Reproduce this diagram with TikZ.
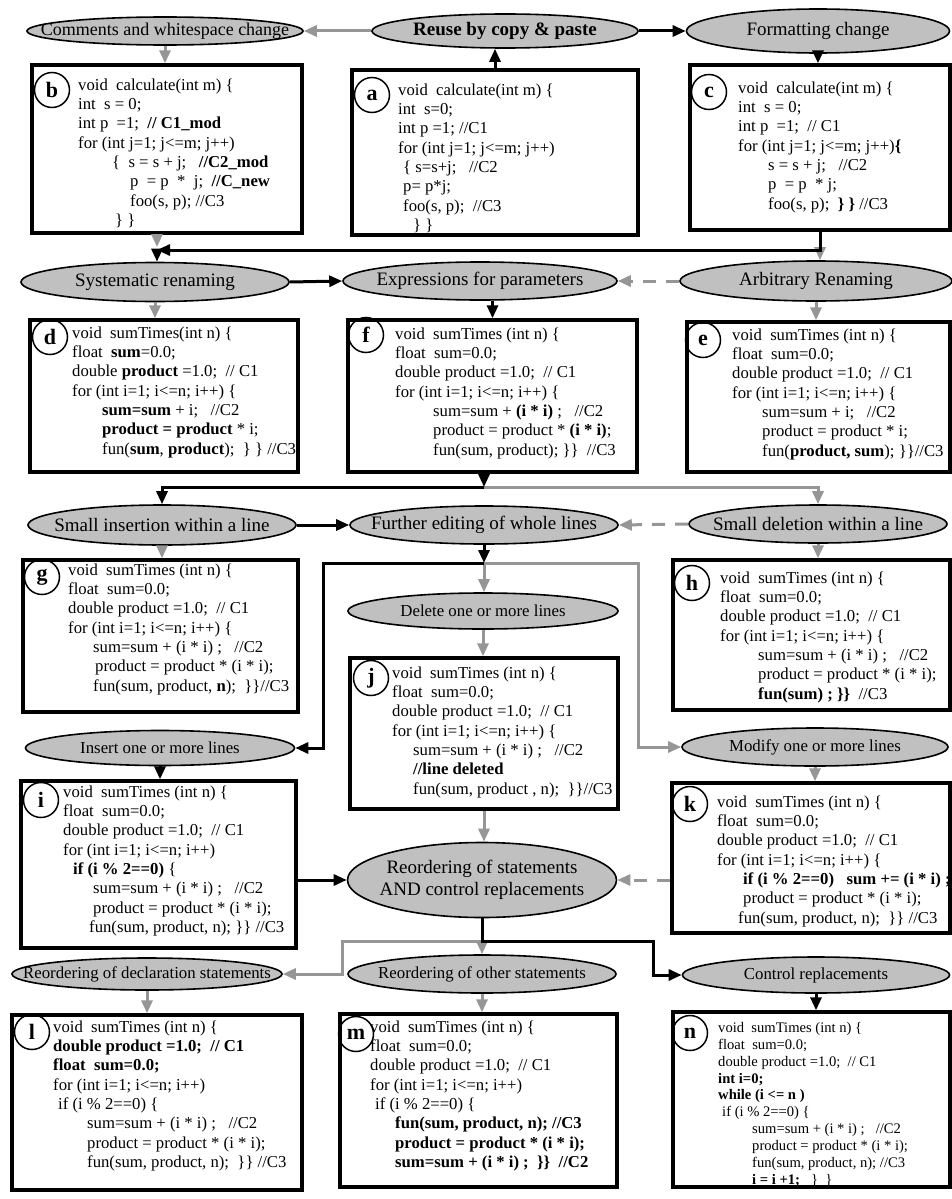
\documentclass[tikz,border=0pt]{standalone}
\usepackage{fontspec}
\setmainfont{Liberation Serif}
\usetikzlibrary{shapes.geometric,arrows.meta}

\definecolor{linegray}{RGB}{150,150,150}
\definecolor{ovalgray}{RGB}{192,192,192}

\tikzset{
  codebox/.style={draw, line width=3.4pt, rectangle, inner sep=0pt},
  code/.style={anchor=north west, align=left, inner sep=0pt, font=\fontsize{16.7}{19.3}\selectfont},
  tag/.style={draw, circle, line width=1.5pt, minimum size=35pt, inner sep=0pt, font=\fontsize{22}{22}\selectfont\bfseries},
  oval/.style={draw, ellipse, line width=1.6pt, fill=ovalgray, inner sep=0pt, font=\fontsize{19}{22}\selectfont},
  smalloval/.style={oval, font=\fontsize{16.8}{20}\selectfont},
  barrow/.style={line width=3pt, -{Triangle[length=13pt,width=11pt]}},
  garrow/.style={barrow, linegray},
  dasharrow/.style={garrow, dash pattern=on 13pt off 10pt}
}

\begin{document}
\begin{tikzpicture}[x=1pt,y=-1pt]
    \useasboundingbox (0,0) rectangle (951,1199);

    % ---- edit steps
    \node[oval, minimum width=276pt, minimum height=28pt, font=\fontsize{18}{20}\selectfont] (cws) at (165,31) {\makebox[0pt]{Comments and whitespace change}};
    \node[oval, minimum width=266pt, minimum height=34pt] (reuse) at (505,31) {\makebox[0pt]{\bfseries Reuse by copy \& paste}};
    \node[oval, minimum width=263pt, minimum height=44pt] (fmt) at (818,31) {\makebox[0pt]{Formatting change}};

    \node[oval, minimum width=268pt, minimum height=39pt] (sys) at (155,282) {\makebox[0pt]{Systematic renaming}};
    \node[oval, minimum width=274pt, minimum height=38pt] (expr) at (480,281) {\makebox[0pt]{Expressions for parameters}};
    \node[oval, minimum width=272pt, minimum height=40pt] (arb) at (816,281) {\makebox[0pt]{Arbitrary Renaming}};

    \node[oval, minimum width=268pt, minimum height=40pt] (sins) at (162,525) {\makebox[0pt]{Small insertion within a line}};
    \node[oval, minimum width=268pt, minimum height=38pt] (fur) at (484,525) {\makebox[0pt]{Further editing of whole lines}};
    \node[oval, minimum width=258pt, minimum height=38pt] (sdel) at (818,524) {\makebox[0pt]{Small deletion within a line}};

    \node[smalloval, minimum width=270pt, minimum height=36pt] (dell) at (483,611) {\makebox[0pt]{Delete one or more lines}};
    \node[smalloval, minimum width=269pt, minimum height=35pt] (insl) at (160,748) {\makebox[0pt]{Insert one or more lines}};
    \node[smalloval, minimum width=266pt, minimum height=38pt] (modl) at (815,747) {\makebox[0pt]{Modify one or more lines}};

    \node[oval, minimum width=269pt, minimum height=75pt] (reo) at (482,880) {\makebox[0pt]{\begin{tabular}{@{}c@{}}Reordering of statements\\AND control replacements\end{tabular}}};

    \node[smalloval, minimum width=270pt, minimum height=32pt] (decl) at (147,974) {\makebox[0pt]{Reordering of declaration statements}};
    \node[smalloval, minimum width=268pt, minimum height=38pt] (other) at (482,974) {\makebox[0pt]{Reordering of other statements}};
    \node[smalloval, minimum width=267pt, minimum height=36pt] (ctl) at (816,975) {\makebox[0pt]{Control replacements}};

    % ---- code boxes
    \node[codebox, minimum width=270pt, minimum height=168pt] (boxb) at (167,149) {};
    \node[code] (xb) at (78,78.5) {void~~calculate(int m) \{\\
int~~s = 0;\\
int p~~=1;~~\textbf{// C1\_mod}\\
for (int j=1; j<=m; j++)\\
\hspace*{34pt}\{~~s = s + j;~~~\textbf{//C2\_mod}\\
\hspace*{52pt}p~~= p~~*~~j;~~\textbf{//C\_new}\\
\hspace*{52pt}foo(s, p); //C3\\
\hspace*{37pt}\} \}};
    \node[tag] (tb) at (52,90) {b};

    \node[codebox, minimum width=286pt, minimum height=165pt] (boxa) at (495,152.5) {};
    \node[code] (xa) at (398,83.5) {void~~calculate(int m) \{\\
int~~s=0;\\
int p =1; //C1\\
for (int j=1; j<=m; j++)\\
\hspace*{5pt}\{ s=s+j;~~~//C2\\
\hspace*{5pt}p= p*j;\\
\hspace*{5pt}foo(s, p);~~//C3\\
\hspace*{15pt}\} \}};
    \node[tag] (ta) at (372,95) {a};

    \node[codebox, minimum width=260pt, minimum height=165pt] (boxc) at (820,147.5) {};
    \node[code] (xc) at (738,81.5) {void~~calculate(int m) \{\\
int~~s = 0;\\
int p~~=1;~~// C1\\
for (int j=1; j<=m; j++)\textbf{\{}\\
\hspace*{30pt}s = s + j;~~~//C2\\
\hspace*{30pt}p~~= p~~* j;\\
\hspace*{30pt}foo(s, p);~~\textbf{\} \}} //C3};
    \node[tag] (tc) at (709,92) {c};

    \node[codebox, minimum width=268pt, minimum height=152pt] (boxd) at (164,396) {};
    \node[code] (xd) at (72,326.5) {void~~sumTimes(int n) \{\\
float~~\textbf{sum}=0.0;\\
double \textbf{product} =1.0;~~// C1\\
for (int i=1; i<=n; i++) \{\\
\hspace*{30pt}\textbf{sum=sum} + i;~~~//C2\\
\hspace*{30pt}\textbf{product = product} * i;\\
\hspace*{30pt}fun(\textbf{sum}, \textbf{product});~~\} \} //C3};
    \node[tag] (td) at (50,337) {d};

    \node[codebox, minimum width=289pt, minimum height=152pt] (boxf) at (492.5,396) {};
    \node[code] (xf) at (395,327.5) {void~~sumTimes (int n) \{\\
float~~sum=0.0;\\
double product =1.0;~~// C1\\
for (int i=1; i<=n; i++) \{\\
\hspace*{38pt}sum=sum + \textbf{(i * i)} ;~~~//C2\\
\hspace*{38pt}product = product * \textbf{(i * i)};\\
\hspace*{38pt}fun(sum, product); \}\}~~//C3};
    \node[tag] (tf) at (366,335) {f};

    \node[codebox, minimum width=263pt, minimum height=150pt] (boxe) at (818.5,397) {};
    \node[code] (xe) at (732,328.5) {void~~sumTimes (int n) \{\\
float~~sum=0.0;\\
double product =1.0;~~// C1\\
for (int i=1; i<=n; i++) \{\\
\hspace*{30pt}sum=sum + i;~~~//C2\\
\hspace*{30pt}product = product * i;\\
\hspace*{30pt}fun(\textbf{product, sum}); \}\}//C3};
    \node[tag] (te) at (703,340) {e};

    \node[codebox, minimum width=275pt, minimum height=152pt] (boxg) at (160.5,636) {};
    \node[code] (xg) at (68,563.5) {void~~sumTimes (int n) \{\\
float~~sum=0.0;\\
double product =1.0;~~// C1\\
for (int i=1; i<=n; i++) \{\\
\hspace*{25pt}sum=sum + (i * i) ;~~~//C2\\
\hspace*{27pt}product = product * (i * i);\\
\hspace*{25pt}fun(sum, product, \textbf{n});~~\}\}//C3};
    \node[tag] (tg) at (42,577) {g};

    \node[codebox, minimum width=277pt, minimum height=150pt] (boxh) at (811.5,635) {};
    \node[code] (xh) at (720,571.5) {void~~sumTimes (int n) \{\\
float~~sum=0.0;\\
double product =1.0;~~// C1\\
for (int i=1; i<=n; i++) \{\\
\hspace*{38pt}sum=sum + (i * i) ;~~~//C2\\
\hspace*{38pt}product = product * (i * i);\\
\hspace*{38pt}\textbf{fun(sum) ; \}\}}~~//C3};
    \node[tag] (th) at (692,583) {h};

    \node[codebox, minimum width=268pt, minimum height=151pt] (boxj) at (484,733.5) {};
    \node[code] (xj) at (392,666.5) {void~~sumTimes (int n) \{\\
float~~sum=0.0;\\
double product =1.0;~~// C1\\
for (int i=1; i<=n; i++) \{\\
\hspace*{21pt}sum=sum + (i * i) ;~~~//C2\\
\hspace*{21pt}\textbf{//line deleted}\\
\hspace*{21pt}fun(sum, product , n);~~\}\}//C3};
    \node[tag] (tj) at (371,678) {j};

    \node[codebox, minimum width=275pt, minimum height=167pt] (boxi) at (158.5,864.5) {};
    \node[code] (xi) at (63,785.5) {void~~sumTimes (int n) \{\\
float~~sum=0.0;\\
double product =1.0;~~// C1\\
for (int i=1; i<=n; i++)\\
\hspace*{10pt}\textbf{if (i \% 2==0)} \{\\
\hspace*{30pt}sum=sum + (i * i) ;~~~//C2\\
\hspace*{30pt}product = product * (i * i);\\
\hspace*{26pt}fun(sum, product, n); \}\} //C3};
    \node[tag] (ti) at (41,800) {i};

    \node[codebox, minimum width=278pt, minimum height=150pt] (boxk) at (811,858) {};
    \node[code] (xk) at (717,795.5) {void~~sumTimes (int n) \{\\
float~~sum=0.0;\\
double product =1.0;~~// C1\\
for (int i=1; i<=n; i++) \{\\
\hspace*{26pt}\textbf{if (i \% 2==0)~~~sum += (i * i) ;}\\
\hspace*{26pt}product = product * (i * i);\\
\hspace*{21pt}fun(sum, product, n);~~\}\} //C3};
    \node[tag] (tk) at (690,804) {k};

    \node[codebox, minimum width=290pt, minimum height=175pt] (boxl) at (157,1102.5) {};
    \node[code] (xl) at (53,1020.5) {void~~sumTimes (int n) \{\\
\textbf{double product =1.0;~~// C1}\\
\textbf{float~~sum=0.0;}\\
for (int i=1; i<=n; i++)\\
\hspace*{5pt}if (i \% 2==0) \{\\
\hspace*{34pt}sum=sum + (i * i) ;~~~//C2\\
\hspace*{34pt}product = product * (i * i);\\
\hspace*{34pt}fun(sum, product, n);~~\}\} //C3};
    \node[tag] (tl) at (32,1032) {l};

    \node[codebox, minimum width=277pt, minimum height=173pt] (boxm) at (478.5,1100.5) {};
    \node[code] (xm) at (370,1020.5) {void~~sumTimes (int n) \{\\
float~~sum=0.0;\\
double product =1.0;~~// C1\\
for (int i=1; i<=n; i++)\\
\hspace*{5pt}if (i \% 2==0) \{\\
\hspace*{25pt}\textbf{fun(sum, product, n); //C3}\\
\hspace*{25pt}\textbf{product = product * (i * i);}\\
\hspace*{25pt}\textbf{sum=sum + (i * i) ;~~\}\}~~//C2}};
    \node[tag] (tm) at (356,1034) {m};

    \node[codebox, minimum width=277pt, minimum height=175pt] (boxn) at (811.5,1099.5) {};
    \node[code, font=\fontsize{14.6}{16.9}\selectfont] (xn) at (718,1022) {void~~sumTimes (int n) \{\\
float~~sum=0.0;\\
double product =1.0;~~// C1\\
\textbf{int i=0;}\\
\textbf{while (i <= n )}\\
\hspace*{4pt}if (i \% 2==0) \{\\
\hspace*{34pt}sum=sum + (i * i) ;~~~//C2\\
\hspace*{34pt}product = product * (i * i);\\
\hspace*{34pt}fun(sum, product, n); //C3\\
\hspace*{34pt}\textbf{i = i +1;}~~~\}~~\}};
    \node[tag] (tn) at (690,1033) {n};

    % ---- junctions and corners
    \coordinate (jc) at (157,250);
    \coordinate (jf) at (484,487);
    \coordinate (jw) at (484,563);
    \coordinate (cins) at (323,748);
    \coordinate (cmod) at (638,747);
    \coordinate (jr) at (482,941);
    \coordinate (cdecl) at (342,941);
    \coordinate (cctl) at (653,941);

    % ---- top row
    \draw[garrow] (reuse.west) -- (cws.east);
    \draw[barrow] (reuse.east) -- (fmt.west);
    \draw[garrow] (cws.south) -- (cws.south |- boxb.north);
    \draw[barrow] (boxa.north) -- (boxa.north |- reuse.south);
    \draw[barrow] (fmt.south) -- (fmt.south |- boxc.north);

    \draw[garrow] (boxb.south -| jc) -- ([yshift=3pt]jc);
    \draw[garrow] (boxc.south |- jc) -- (boxc.south |- arb.north);
    \draw[barrow] (boxc.south) |- (jc);
    \draw[barrow] (jc) -- (jc |- sys.north);

    % ---- renaming row
    \draw[barrow] (sys.east) -- (expr.west);
    \draw[dasharrow] (arb.west) -- (expr.east);
    \draw[garrow] (sys.south) -- (sys.south |- boxd.north);
    \draw[barrow] (boxf.north |- expr.south) -- (boxf.north);
    \draw[garrow] (arb.south) -- (arb.south |- boxe.north);

    \draw[garrow] (jf) -| (sdel.north);
    \draw[barrow] (boxf.south -| jf) -- (jf);
    \draw[barrow] (jf) -| (sins.north);

    % ---- small edits
    \draw[barrow] (sins.east) -- (fur.west);
    \draw[dasharrow] (sdel.west) -- (fur.east);
    \draw[garrow] (sins.south) -- (sins.south |- boxg.north);
    \draw[garrow] (sdel.south) -- (sdel.south |- boxh.north);

    % ---- whole lines
    \draw[garrow] (jw) -| (cmod) -- (modl.west);
    \draw[garrow] (jw) -- (jw |- dell.north);
    \draw[barrow] (fur.south) -- (jw);
    \draw[barrow] (jw) -| (cins) -- (insl.east);
    \draw[garrow] (dell.south) -- (dell.south |- boxj.north);
    \draw[barrow] (insl.south) -- (insl.south |- boxi.north);
    \draw[garrow] (modl.south) -- (modl.south |- boxk.north);

    % ---- reordering
    \draw[garrow] (boxj.south) -- (boxj.south |- reo.north);
    \draw[barrow] (boxi.east |- reo.west) -- (reo.west);
    \draw[dasharrow] (boxk.west |- reo.east) -- (reo.east);

    \draw[garrow] (jr) -- (cdecl) |- (decl.east);
    \draw[garrow] (jr) -- (jr |- other.north);
    \draw[barrow] (reo.south) |- (cctl) |- (ctl.west);

    \draw[garrow] (decl.south) -- (decl.south |- boxl.north);
    \draw[garrow] (other.south) -- (other.south |- boxm.north);
    \draw[barrow] (ctl.south) -- (ctl.south |- boxn.north);
\end{tikzpicture}
\end{document}
